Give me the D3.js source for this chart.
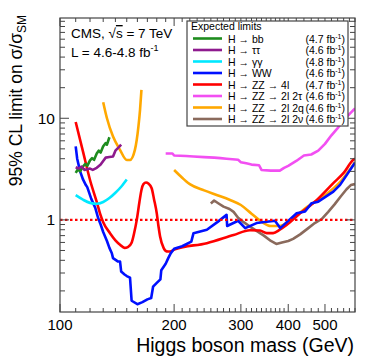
<!DOCTYPE html>
<html><head><meta charset="utf-8">
<script src="https://cdn.jsdelivr.net/npm/d3@7"></script>
<style>body{margin:0;background:#fff}svg{display:block;font-family:"Liberation Sans",Arial,sans-serif}</style>
</head><body>
<svg id="c" width="374" height="359"></svg>
<script>
// ---- data ----
const labels = ["H \u2192 bb","H \u2192 \u03c4\u03c4","H \u2192 \u03b3\u03b3","H \u2192 WW","H \u2192 ZZ \u2192 4l","H \u2192 ZZ \u2192 2l 2\u03c4","H \u2192 ZZ \u2192 2l 2q","H \u2192 ZZ \u2192 2l 2\u03bd"];
const lumis = ["4.7","4.6","4.8","4.6","4.7","4.6","4.6","4.6"];
const xTickLabels = [100,200,300,400,500];
const yTickLabels = [1,10];

const hbb = [[110,2.9],[111.5,3.15],[113,3.0],[115,3.35],[116.5,3.55],[118,3.4],[120,3.85],[121.5,4.05],[123,3.9],[125,4.5],[126.5,4.8],[128,4.6],[130,5.3],[132,5.7],[133,5.5],[135,6.5]];
const htautau = [[110,3.3],[112,3.2],[114,3.35],[116,3.1],[118,3.15],[120,3.2],[122,3.1],[125,3.25],[128,3.5],[130,3.8],[132,4.1],[135,4.15],[138,4.2],[140,4.8],[143,5.2],[145,5.5]];
const hgg = [[110,1.75],[115,1.58],[120,1.47],[125,1.44],[130,1.5],[135,1.64],[140,1.85],[145,2.12],[150,2.5]];
const hww = [[110,5.3],[111,4.0],[113,3.0],[115,2.5],[117,2.2],[118,2.1],[121,1.6],[124,1.3],[126,1.05],[128,0.9],[130,0.76],[133,0.62],[135,0.53],[137,0.47],[138,0.42],[142,0.39],[144,0.39],[145,0.31],[148,0.29],[150,0.28],[153,0.27],[154.5,0.16],[160,0.148],[165,0.155],[170,0.165],[174,0.17],[176,0.22],[180,0.24],[184,0.26],[185,0.32],[190,0.37],[193,0.42],[196,0.47],[200,0.52],[210,0.55],[222,0.61],[225,0.74],[244,0.8],[260,0.95],[275,1.12],[276,0.87],[295,0.98],[308,0.83],[330,0.93],[369,0.98],[381,0.83],[421,1.16],[443,1.21],[461,1.46],[480,1.51],[526,1.9],[548,2.21],[600,3.66]];
const hzz4l = [[110,9.2],[115,4.7],[120,2.47],[125,1.5],[127.5,1.16],[130,0.95],[135.5,0.74],[140,0.63],[144,0.57],[148,0.53],[151,0.54],[154.6,0.6],[157,0.75],[159.4,1.0],[162,1.5],[164,1.97],[166,2.25],[168.6,2.33],[171,2.28],[174.5,2.05],[177,1.6],[180,1.16],[182,0.85],[183.6,0.69],[187.6,0.53],[191,0.49],[195,0.488],[201,0.515],[244,0.59],[287,0.71],[317,0.79],[337,0.785],[351,0.74],[365,0.74],[380,0.8],[396,0.89],[430,1.16],[476,1.57],[526,2.3],[560,2.9],[594,3.9],[600,4.0]];
const hzz2l2tau = [[190,4.5],[198,4.5],[200,4.3],[215,4.25],[225,4.2],[240,4.15],[255,4.1],[265,4.05],[275,4.0],[285,3.95],[295,3.9],[300,3.7],[310,3.6],[320,3.5],[335,3.45],[340,3.1],[360,3.05],[380,3.05],[390,3.25],[400,3.4],[420,3.8],[440,4.3],[460,4.4],[480,4.8],[500,5.6],[520,6.8],[540,8.0],[560,9.6],[580,11],[600,12.5]];
const hzz2l2qLow = [[130,14.4],[133,10],[138,6.6],[144,4.88],[150,3.89],[153,3.89],[157.6,4.88],[161,8.27],[162.6,12.1],[164,19]];
const hzz2l2qHigh = [[200,3.1],[210,2.6],[215,2.4],[220,2.25],[240,1.95],[260,1.75],[280,1.58],[300,1.4],[320,1.15],[340,0.96],[360,0.87],[380,0.87],[400,0.96],[420,1.1],[450,1.35],[500,1.75],[550,2.4],[600,3.7]];
const hzz2l2nu = [[250,1.45],[255,1.55],[262,1.45],[270,1.35],[280,1.28],[287,1.2],[295,1.05],[305,0.95],[317,0.86],[330,0.78],[345,0.70],[360,0.62],[372,0.58],[385,0.60],[400,0.62],[412,0.65],[430,0.72],[450,0.82],[470,0.93],[490,1.02],[510,1.2],[530,1.42],[550,1.7],[570,2.0],[585,2.2],[600,2.25]];

// ---- styles ----
const colors = ["#1e8c1e","#8e1a8e","#00e8ff","#0010ff","#ff0000","#f24ff2","#ffa800","#8a6a5c"];

const svg = d3.select("#c");
const L=60,R=355,T=18,B=312;
const x = d3.scaleLog().domain([100,600]).range([L,R]);
const y = d3.scaleLog().domain([0.124,97]).range([B,T]);

svg.append("defs").append("clipPath").attr("id","clip").append("rect")
  .attr("x",L).attr("y",T).attr("width",R-L).attr("height",B-T);

const g = svg.append("g").attr("clip-path","url(#clip)");
const lineLin = d3.line().x(d=>x(d[0])).y(d=>y(d[1]));
const lineSmooth = d3.line().x(d=>x(d[0])).y(d=>y(d[1])).curve(d3.curveMonotoneX);

function draw(data, ci, smooth){
  g.append("path").datum(data).attr("d", smooth?lineSmooth:lineLin)
   .attr("fill","none").attr("stroke",colors[ci]).attr("stroke-width",2.6)
   .attr("stroke-linejoin","round");
}
draw(hzz2l2tau,5,false);
draw(hzz2l2qLow,6,true);
draw(hzz2l2qHigh,6,true);
draw(hzz2l2nu,7,false);
draw(hzz4l,4,true);
draw(hww,3,false);
draw(hgg,2,true);
draw(hbb,0,false);
draw(htautau,1,false);

// SM line
g.append("line").attr("x1",L).attr("x2",R).attr("y1",y(1)).attr("y2",y(1))
 .attr("stroke","#ff0000").attr("stroke-width",2.2).attr("stroke-dasharray","2.5,2.5");

// frame
svg.append("rect").attr("x",L).attr("y",T).attr("width",R-L).attr("height",B-T)
 .attr("fill","none").attr("stroke","#444").attr("stroke-width",1.2);

// y ticks
const yt=[];
[0.1,1,10].forEach(dec=>{for(let k=1;k<10;k++){const v=dec*k; if(v>=0.124&&v<=97) yt.push(v);}});
const tk = svg.append("g").attr("stroke","#444").attr("stroke-width",1);
yt.forEach(v=>{
  const maj = yTickLabels.includes(+v.toFixed(6));
  const len = maj?9:5;
  tk.append("line").attr("x1",L).attr("x2",L+len).attr("y1",y(v)).attr("y2",y(v));
  tk.append("line").attr("x1",R).attr("x2",R-len).attr("y1",y(v)).attr("y2",y(v));
});
// x ticks
const xt=[];
for(let m=100;m<=400;m+=10) xt.push(m);
for(let m=420;m<=600;m+=20) xt.push(m);
xt.forEach(m=>{
  const maj = xTickLabels.includes(m);
  const len = maj?8:4;
  tk.append("line").attr("x1",x(m)).attr("x2",x(m)).attr("y1",B).attr("y2",B-len);
  tk.append("line").attr("x1",x(m)).attr("x2",x(m)).attr("y1",T).attr("y2",T+len);
});

// tick labels
xTickLabels.forEach(m=>{
  svg.append("text").attr("x",x(m)).attr("y",B+17.5).attr("text-anchor","middle")
   .attr("font-size",15).text(m);
});
yTickLabels.forEach(v=>{
  svg.append("text").attr("x",L-5).attr("y",y(v)+5.5).attr("text-anchor","end")
   .attr("font-size",15.5).text(v);
});

// axis titles
svg.append("text").attr("x",R-1).attr("y",351.5).attr("text-anchor","end")
 .attr("font-size",19.5).text("Higgs boson mass (GeV)");
const yl = svg.append("text").attr("transform","translate(22,15) rotate(-90)")
 .attr("text-anchor","end").attr("font-size",17.5);
yl.append("tspan").text("95% CL limit on \u03c3/\u03c3");
yl.append("tspan").attr("font-size",12).attr("dy",4).text("SM");

// CMS text
const t1 = svg.append("text").attr("x",71).attr("y",38).attr("font-size",13.5);
t1.append("tspan").text("CMS, \u221a");
t1.append("tspan").attr("text-decoration","overline").text("s");
t1.append("tspan").text(" = 7 TeV");
const t2 = svg.append("text").attr("x",71).attr("y",57).attr("font-size",13.5);
t2.append("tspan").text("L = 4.6-4.8 fb");
t2.append("tspan").attr("font-size",9).attr("dy",-6).text("-1");

// legend
const lg = svg.append("g");
lg.append("rect").attr("x",187).attr("y",21).attr("width",161).attr("height",105)
 .attr("fill","#fff").attr("stroke","#444").attr("stroke-width",1.2);
lg.append("text").attr("x",191).attr("y",30).attr("font-size",10.5).text("Expected limits");
labels.forEach((lab,i)=>{
  const yy = 38.5 + i*11.5;
  lg.append("line").attr("x1",193).attr("x2",222).attr("y1",yy).attr("y2",yy)
    .attr("stroke",colors[i]).attr("stroke-width",2.6);
  lg.append("text").attr("x",228).attr("y",yy+4).attr("font-size",10.5).text(lab);
  const lt = lg.append("text").attr("x",345).attr("y",yy+4).attr("font-size",10.5).attr("text-anchor","end");
  lt.append("tspan").text("("+lumis[i]+" fb");
  lt.append("tspan").attr("font-size",7).attr("dy",-4).text("-1");
  lt.append("tspan").attr("dy",4).text(")");
});
</script>
</body></html>
